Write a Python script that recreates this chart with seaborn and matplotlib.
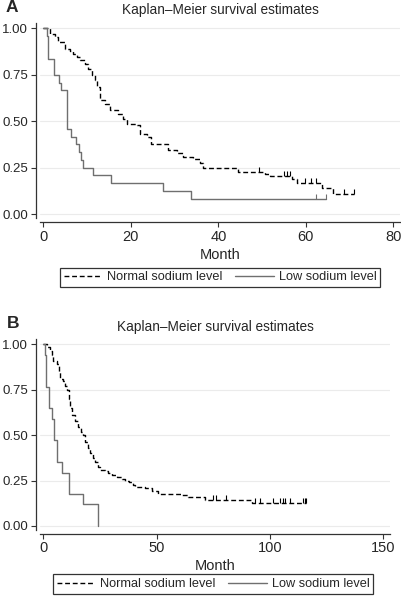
import numpy as np
import pandas as pd
import matplotlib
matplotlib.use("Agg")
import matplotlib.pyplot as plt
from matplotlib.lines import Line2D
import seaborn as sns

# ---- Panel A: step times / survival ----
normal_a_t = [0, 1.5, 2.7, 3.4, 5.0, 6.1, 6.9, 7.6, 8.4, 9.5, 10.3, 11.1, 11.8, 12.2,
              13.0, 14.1, 15.2, 17.1, 18.3, 19.1, 21.3, 22.1, 23.6, 24.6, 28.6, 30.5,
              32.0, 34.3, 35.8, 36.6, 44.6, 50.7, 51.8, 56.8, 57.9, 63.6, 66.3, 71.1]
normal_a_s = [1.0, 0.971, 0.953, 0.926, 0.89, 0.878, 0.864, 0.846, 0.832, 0.81, 0.783,
              0.747, 0.72, 0.685, 0.613, 0.595, 0.56, 0.54, 0.514, 0.487, 0.478, 0.43,
              0.415, 0.38, 0.347, 0.33, 0.31, 0.297, 0.275, 0.25, 0.228, 0.215, 0.206,
              0.188, 0.166, 0.138, 0.106, 0.106]
normal_a_cens = [49.3, 54.9, 55.7, 56.3, 59.8, 61.1, 62.3, 68.8, 71.1]

low_a_t = [0, 0.8, 1.1, 2.4, 3.5, 4.1, 5.4, 6.3, 7.5, 8.1, 8.7, 9.0, 11.3, 15.4,
           27.4, 33.8, 64.5]
low_a_s = [1.0, 0.958, 0.833, 0.75, 0.708, 0.667, 0.458, 0.417, 0.375, 0.333, 0.292,
           0.25, 0.208, 0.167, 0.125, 0.083, 0.083]
low_a_cens = [62.2, 64.5]

# ---- Panel B ----
normal_b_t = [0, 1.5, 2.9, 3.8, 4.4, 5.9, 6.8, 7.4, 8.8, 9.6, 10.3, 11.2, 11.8, 12.5,
              14.0, 15.4, 16.5, 17.6, 18.4, 19.5, 20.6, 21.7, 22.8, 24.0, 25.0, 27.0,
              28.7, 30.5, 32.4, 34.5, 36.0, 38.0, 39.5, 40.5, 43.0, 44.9, 47.8, 50.7,
              61.0, 64.0, 71.3, 91.9, 116.0]
normal_b_s = [1.0, 0.985, 0.965, 0.94, 0.91, 0.89, 0.85, 0.81, 0.80, 0.77, 0.75, 0.70,
              0.65, 0.61, 0.58, 0.545, 0.52, 0.50, 0.46, 0.43, 0.40, 0.375, 0.35, 0.325,
              0.31, 0.30, 0.29, 0.28, 0.27, 0.258, 0.248, 0.24, 0.228, 0.217, 0.212,
              0.207, 0.19, 0.177, 0.168, 0.159, 0.144, 0.126, 0.126]
normal_b_cens = [75.0, 76.2, 80.6, 93.4, 95.6, 101.2, 104.4, 105.6, 106.6, 108.8,
                 114.7, 115.4, 116.0]

low_b_t = [0, 0.6, 1.2, 2.6, 3.7, 4.9, 6.2, 8.1, 11.5, 17.6, 24.0]
low_b_s = [1.0, 0.941, 0.765, 0.647, 0.588, 0.471, 0.353, 0.294, 0.176, 0.118, 0.0]
low_b_cens = []

groups = ["Normal sodium level", "Low sodium level"]
colors = {"Normal sodium level": "black", "Low sodium level": "#6f6f6f"}
dashes = {"Normal sodium level": (3.5, 2), "Low sodium level": ""}

sns.set_theme(style="white")
plt.rcParams["font.family"] = ["Liberation Sans", "DejaVu Sans"]


def surv_at(times, surv, pts):
    idx = np.searchsorted(times, pts, side="right") - 1
    return np.asarray(surv)[idx]


def km_panel(ax, curves, xticks, xlim, letter):
    frames = []
    for g, (t, s, c) in zip(groups, curves):
        frames.append(pd.DataFrame({"Month": t, "surv": s, "group": g}))
    df = pd.concat(frames, ignore_index=True)
    sns.lineplot(data=df, x="Month", y="surv", hue="group", style="group",
                 palette=colors, dashes=dashes, drawstyle="steps-post",
                 estimator=None, sort=False, lw=1.0, legend=False, ax=ax)
    # censoring marks
    for g, (t, s, c) in zip(groups, curves):
        if len(c):
            ax.plot(c, surv_at(t, s, c), ls="none", marker=2, ms=3.5,
                    mew=0.8, color=colors[g])
    ax.set_xlim(*xlim)
    ax.set_ylim(-0.02, 1.03)
    ax.set_xticks(xticks)
    ax.set_yticks([0, 0.25, 0.5, 0.75, 1.0])
    ax.set_yticklabels(["0.00", "0.25", "0.50", "0.75", "1.00"])
    ax.yaxis.grid(True, color="#ebebeb", lw=0.8)
    ax.set_axisbelow(True)
    ax.set_ylabel("")
    ax.set_xlabel("Month", fontsize=10.5, labelpad=3)
    ax.set_title("Kaplan\u2013Meier survival estimates", fontsize=9.8, pad=6)
    ax.tick_params(axis="x", labelsize=10.5, length=3.5, width=0.8, pad=2,
                   bottom=True, color="#333333")
    ax.tick_params(axis="y", labelsize=9.5, length=3.5, width=0.8, pad=2,
                   left=True, color="#333333")
    sns.despine(ax=ax, offset=3)
    for sp in ("left", "bottom"):
        ax.spines[sp].set_color("#333333")
        ax.spines[sp].set_linewidth(0.9)
    ax.text(-0.095, 1.08, letter, transform=ax.transAxes, fontsize=12.5,
            fontweight="bold", va="center", ha="left")


fig = plt.figure(figsize=(4.02, 6.0), dpi=100)
ax_a = fig.add_axes([0.0995, 0.637, 0.8955, 0.325])
ax_b = fig.add_axes([0.0995, 0.1175, 0.8706, 0.3175])

km_panel(ax_a, [(normal_a_t, normal_a_s, normal_a_cens),
                (low_a_t, low_a_s, low_a_cens)],
         [0, 20, 40, 60, 80], (-0.75, 81.5), "A")
km_panel(ax_b, [(normal_b_t, normal_b_s, normal_b_cens),
                (low_b_t, low_b_s, low_b_cens)],
         [0, 50, 100, 150], (-1.46, 152.9), "B")

handles = [Line2D([], [], color=colors[groups[0]], lw=1.0, dashes=dashes[groups[0]]),
           Line2D([], [], color=colors[groups[1]], lw=1.0)]
for x_c, y_c in [(220 / 402, 1 - 277.5 / 600), (213 / 402, 1 - 584 / 600)]:
    leg = fig.legend(handles, groups, loc="center", bbox_to_anchor=(x_c, y_c),
                     ncol=2, fontsize=9.2, frameon=True, fancybox=False,
                     handlelength=3.0, handletextpad=0.4, columnspacing=1.0,
                     borderpad=0.3, edgecolor="black")
    leg.get_frame().set_linewidth(0.9)

fig.savefig("out.png", dpi=100)
